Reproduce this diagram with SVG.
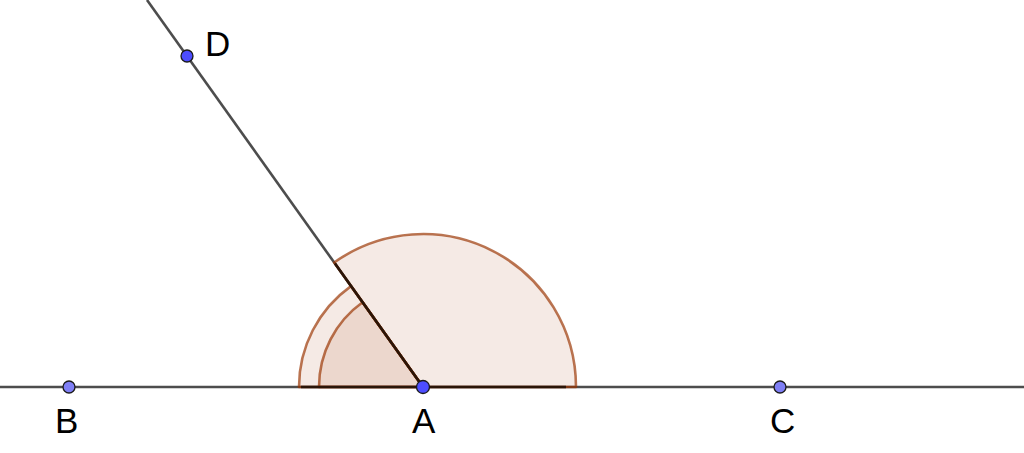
<svg xmlns="http://www.w3.org/2000/svg" width="1024" height="453" viewBox="0 0 1024 453">
<style>
.ln{stroke:#4d4d4d;stroke-width:2.6;fill:none}
.ang{fill:#993300;fill-opacity:0.1;stroke:#993300;stroke-opacity:0.68;stroke-width:2.6;stroke-linejoin:round}
.edge{stroke:#2a1508;stroke-width:2.6;fill:none}
.pt{stroke:#1a1a1a;stroke-width:1.3}
.lbl{font-family:"Liberation Sans",Arial,sans-serif;font-size:35px;fill:#000}
</style>
<rect width="1024" height="453" fill="#fff"/>
<g id="connectors">
<line class="ln" x1="0" y1="387" x2="1024" y2="387"/>
<line class="ln" x1="423" y1="387" x2="147" y2="0"/>
</g>
<g id="angle-DAC">
<path class="ang" d="M423,387 L576,387 A153,153 0 0 0 334.2,262.5 Z"/>
</g>
<g id="angle-BAD">
<path class="ang" d="M423,387 L351,286.1 A124,124 0 0 0 299,387 Z"/>
<path class="ang" d="M423,387 L362.6,302.3 A104,104 0 0 0 319,387 Z"/>
</g>
<g id="edges">
<line class="edge" x1="423" y1="387" x2="335" y2="263.5"/>
<line class="edge" x1="423" y1="387" x2="566" y2="387"/>
<line class="edge" x1="301" y1="387" x2="423" y2="387" stroke="#5a2a10"/>
</g>
<g id="node-B">
<circle class="pt" cx="69" cy="387" r="6" fill="#7f7ff5"/>
<text class="lbl" x="55" y="433">B</text>
</g>
<g id="node-C">
<circle class="pt" cx="780" cy="387" r="6" fill="#7f7ff5"/>
<text class="lbl" x="770" y="433">C</text>
</g>
<g id="node-D">
<circle class="pt" cx="187" cy="56" r="6" fill="#4d4dff"/>
<text class="lbl" x="205" y="56">D</text>
</g>
<g id="node-A">
<circle class="pt" cx="423" cy="387" r="6.5" fill="#4d4dff"/>
<text class="lbl" x="412" y="433">A</text>
</g>
</svg>
